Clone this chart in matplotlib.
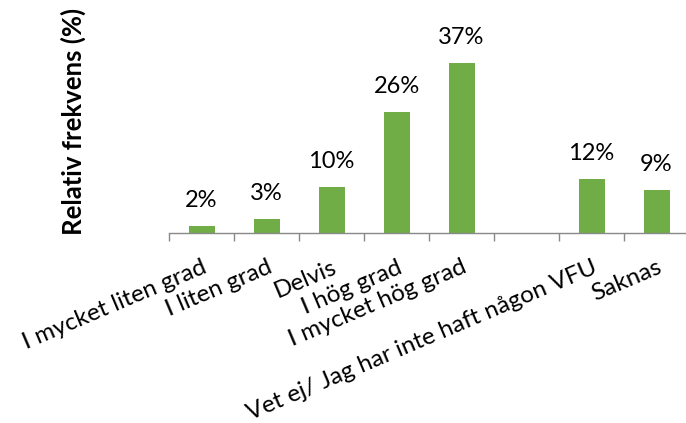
import numpy as np
import matplotlib.pyplot as plt

categories = ['I mycket liten grad', 'I liten grad', 'Delvis', 'I hög grad',
              'I mycket hög grad', '', 'Vet ej/ Jag har inte haft någon VFU', 'Saknas']
values = [1.6, 3.0, 9.9, 26.4, 36.9, np.nan, 11.7, 9.3]

plt.rcParams['font.family'] = ['Lato', 'DejaVu Sans']

fig = plt.figure(figsize=(6.86, 4.23), dpi=100)
ax = fig.add_axes([0.2464, 0.4492, 0.758, 0.435])

x = np.arange(len(categories))
ax.bar(x, values, width=0.4, color='#70AD47', zorder=2)

# value labels
for xi, v in zip(x, values):
    if np.isnan(v):
        continue
    ax.annotate('%.0f%%' % v, (xi, v), xytext=(0, 13.7), textcoords='offset points',
                ha='center', va='baseline', fontsize=17, color='black')

ax.set_xlim(-0.5, len(categories) - 0.5)
ax.set_ylim(0, 40)

# axis styling
for s in ['top', 'right', 'left']:
    ax.spines[s].set_visible(False)
ax.spines['bottom'].set_color('#898989')
ax.spines['bottom'].set_linewidth(1)
ax.set_yticks([])

ax.set_xticks(x)
ax.set_xticklabels(categories, rotation=23, ha='right', va='top',
                   rotation_mode='anchor', fontsize=17.5)
ax.tick_params(axis='x', which='major', length=0, pad=17)
ax.set_xticks(np.arange(len(categories) + 1) - 0.5, minor=True)
ax.tick_params(axis='x', which='minor', length=6, color='#898989', width=1)

fig.text(73 / 686, 1 - 121 / 423, 'Relativ frekvens (%)', rotation=90,
         ha='center', va='center', fontsize=18.5, fontweight='bold')

fig.savefig('out.png', dpi=100)
